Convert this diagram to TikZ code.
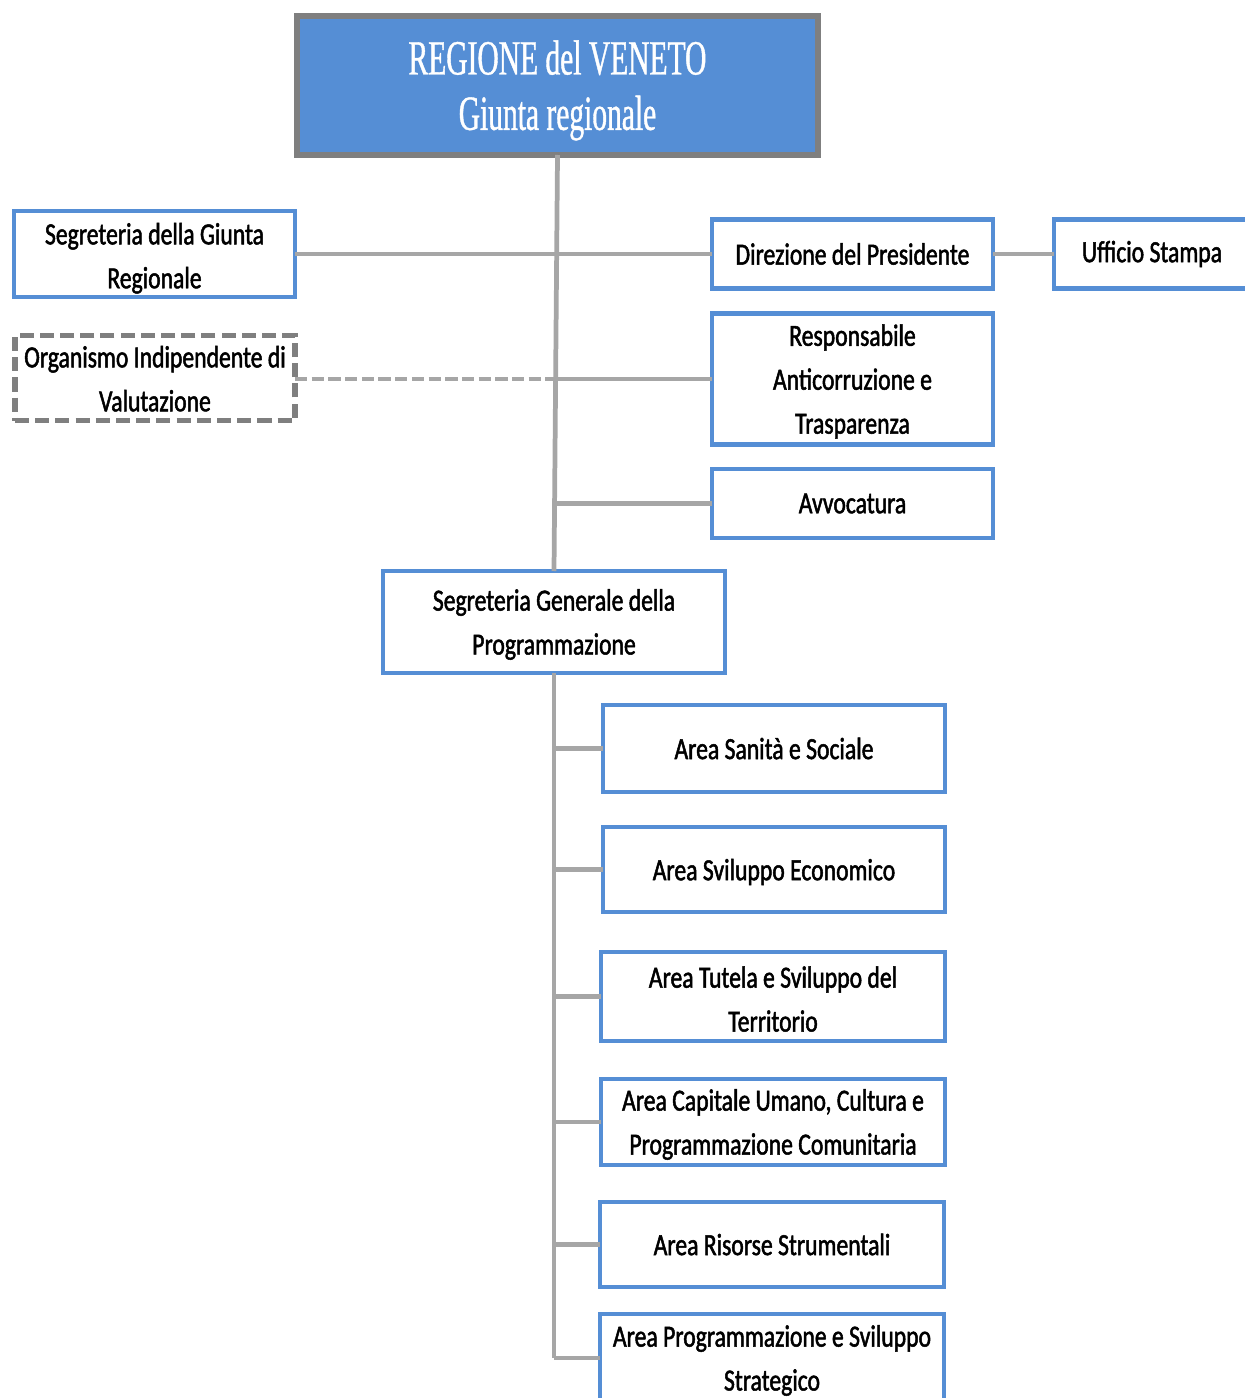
\documentclass[tikz,border=0pt]{standalone}
\usepackage{fontspec}
\setmainfont{Carlito}[FakeStretch=0.77, FakeBold=1.6]
\newfontfamily\titlefont{Liberation Serif}[FakeStretch=0.6, FakeBold=0.8]
\usepackage{tikz}
\usetikzlibrary{positioning}
\definecolor{boxblue}{RGB}{85,142,213}
\definecolor{linegray}{RGB}{166,166,166}
\definecolor{framegray}{RGB}{127,127,127}
\tikzstyle{unit} = [draw=boxblue, line width=2.7pt, fill=white, align=center, inner sep=0pt, outer sep=0pt, font=\fontsize{17.5}{25}\selectfont]
\tikzstyle{head} = [draw=framegray, line width=3.2pt, fill=boxblue, text=white, align=center, inner sep=0pt, outer sep=0pt, font=\titlefont\fontsize{28}{31.5}\selectfont]
\tikzstyle{extra} = [unit, draw=framegray, line width=2.9pt, dash pattern=on 8pt off 3.5pt]
\tikzstyle{link} = [draw=linegray, line width=2.7pt]

\begin{document}
\begin{tikzpicture}[x=0.02cm, y=-0.02cm]
    \useasboundingbox (0,0) rectangle (1244,1398);
    % vertice
    \node[head, minimum width=521*0.02cm, minimum height=139*0.02cm] (giunta) at (557.5,85.5) {\rule{0pt}{25pt}REGIONE del VENETO\\Giunta regionale};
    % staff
    \node[unit, minimum width=281*0.02cm, minimum height=86*0.02cm] (segrg) at (154.5,254) {\rule{0pt}{17pt}Segreteria della Giunta\\Regionale};
    \node[extra, minimum width=280*0.02cm, minimum height=85*0.02cm] (oiv) at (155,378) {\rule{0pt}{13pt}Organismo Indipendente di\\Valutazione};
    \node[unit, minimum width=281*0.02cm, minimum height=69*0.02cm] (dirp) at (852.5,254) {Direzione del Presidente};
    \node[unit, minimum width=196*0.02cm, minimum height=69*0.02cm] (stampa) at (1152,254) {Ufficio Stampa};
    \node[unit, minimum width=281*0.02cm, minimum height=131*0.02cm] (resp) at (852.5,379) {\rule{0pt}{15pt}Responsabile\\Anticorruzione e\\Trasparenza};
    \node[unit, minimum width=281*0.02cm, minimum height=69*0.02cm] (avv) at (852.5,503.5) {Avvocatura};
    % segreteria generale e aree
    \node[unit, minimum width=342*0.02cm, minimum height=102*0.02cm] (sgp) at (554,622) {\rule{0pt}{15pt}Segreteria Generale della\\Programmazione};
    \node[unit, minimum width=342*0.02cm, minimum height=87*0.02cm] (a1) at (774,748.5) {Area Sanità e Sociale};
    \node[unit, minimum width=342*0.02cm, minimum height=85*0.02cm] (a2) at (774,869.5) {\rule{0pt}{15pt}Area Sviluppo Economico};
    \node[unit, minimum width=344*0.02cm, minimum height=89*0.02cm] (a3) at (773,996.5) {\rule{0pt}{15pt}Area Tutela e Sviluppo del\\Territorio};
    \node[unit, minimum width=344*0.02cm, minimum height=86*0.02cm] (a4) at (773,1122) {\rule{0pt}{15pt}Area Capitale Umano, Cultura e\\Programmazione Comunitaria};
    \node[unit, minimum width=344*0.02cm, minimum height=85*0.02cm] (a5) at (772,1244.5) {Area Risorse Strumentali};
    \node[unit, minimum width=344*0.02cm, minimum height=88*0.02cm] (a6) at (772,1358) {\rule{0pt}{15pt}Area Programmazione e Sviluppo\\Strategico};
    % collegamenti
    \coordinate (j2) at (555.5,379);
    \coordinate (j3) at (555.5,503.5);
    \draw[link] (giunta.south) -- (sgp.north);
    \draw[link] (segrg.east) -- (dirp.west);
    \draw[link] (dirp.east) -- (stampa.west);
    \draw[link, dash pattern=on 7pt off 2.5pt] (oiv.east |- j2) -- (j2);
    \draw[link] (j2) -- (resp.west);
    \draw[link] (j3) -- (avv.west);
    \draw[link] (sgp.south) -- (sgp.south |- a6.west);
    \foreach \a in {a1,a2,a3,a4,a5,a6}{
        \draw[link] (\a.west) -- (\a.west -| sgp.south);
    }
\end{tikzpicture}
\end{document}
